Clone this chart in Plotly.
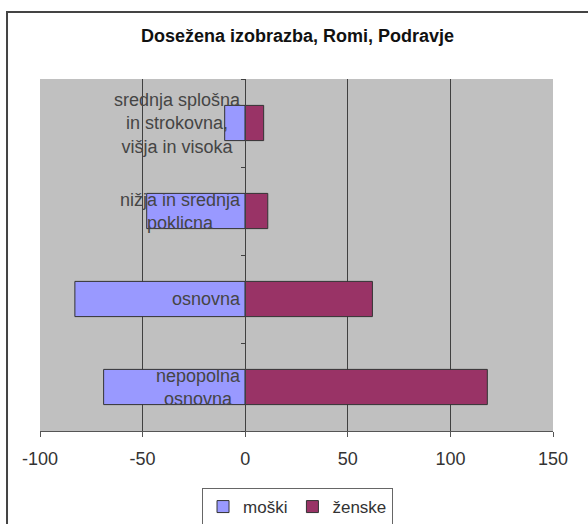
import plotly.graph_objects as go

categories = ["nepopolna osnovna", "osnovna", "nižja in srednja poklicna",
              "srednja splošna in strokovna, višja in visoka"]
category_labels = ["nepopolna<br>osnovna", "osnovna", "nižja in srednja<br>poklicna",
                   "srednja splošna<br>in strokovna,<br>višja in visoka"]
moski = [-69, -83, -48, -10]
zenske = [118, 62, 11, 9]
x_ticks = [-100, -50, 0, 50, 100, 150]

FONT = "Liberation Sans, Arial, sans-serif"

fig = go.Figure()
fig.add_trace(go.Bar(y=categories, x=moski, orientation="h", name="moški",
                     marker=dict(color="#9999FF", line=dict(color="#333333", width=1)),
                     hoverinfo="x"))
fig.add_trace(go.Bar(y=categories, x=zenske, orientation="h", name="ženske",
                     marker=dict(color="#993366", line=dict(color="#333333", width=1)),
                     hoverinfo="x"))

for cat, lab in zip(categories, category_labels):
    fig.add_annotation(x=0, y=cat, xref="x", yref="y", text=lab, showarrow=False,
                       xanchor="right", yanchor="middle", xshift=-2, align="center",
                       font=dict(family=FONT, size=18, color="#454545"))

fig.add_shape(type="rect", xref="paper", yref="paper",
              x0=-0.0643, x1=1.3, y0=-0.4, y1=1.19,
              line=dict(color="#444444", width=2), fillcolor="rgba(0,0,0,0)", layer="below")

fig.update_layout(
    width=588, height=524,
    margin=dict(l=40, r=35, t=79, b=93, autoexpand=False),
    paper_bgcolor="white", plot_bgcolor="#c0c0c0",
    barmode="relative", bargap=0.6,
    title=dict(text="<b>Dosežena izobrazba, Romi, Podravje</b>", x=0.506, xanchor="center",
               y=1 - 36 / 524, yanchor="middle",
               font=dict(family=FONT, size=18, color="#111111")),
    xaxis=dict(range=[-100, 150], tickvals=x_ticks, ticktext=[str(v) for v in x_ticks],
               showgrid=True, gridcolor="#404040", gridwidth=1,
               zeroline=True, zerolinecolor="#404040", zerolinewidth=1,
               showline=True, linecolor="#555555", linewidth=1,
               ticks="outside", ticklen=5, tickcolor="#555555", ticklabelstandoff=6,
               tickfont=dict(family=FONT, size=18, color="#333333"), fixedrange=True),
    yaxis=dict(categoryorder="array", categoryarray=categories,
               anchor="free", position=0.4, showticklabels=False,
               showgrid=False, showline=True, linecolor="#404040", linewidth=1,
               ticks="outside", ticklen=4, tickcolor="#404040", tickson="boundaries",
               fixedrange=True),
    showlegend=True,
    legend=dict(orientation="h", x=0.502, xanchor="center", y=-0.162, yanchor="top",
                bgcolor="white", bordercolor="#666666", borderwidth=1,
                font=dict(family=FONT, size=17, color="#333333"),
                itemwidth=30, tracegroupgap=0, itemclick=False, itemdoubleclick=False),
)

fig.write_html("out.html", config={"displayModeBar": False},
               post_script="document.body.style.margin='0';document.body.style.overflow='hidden';")
